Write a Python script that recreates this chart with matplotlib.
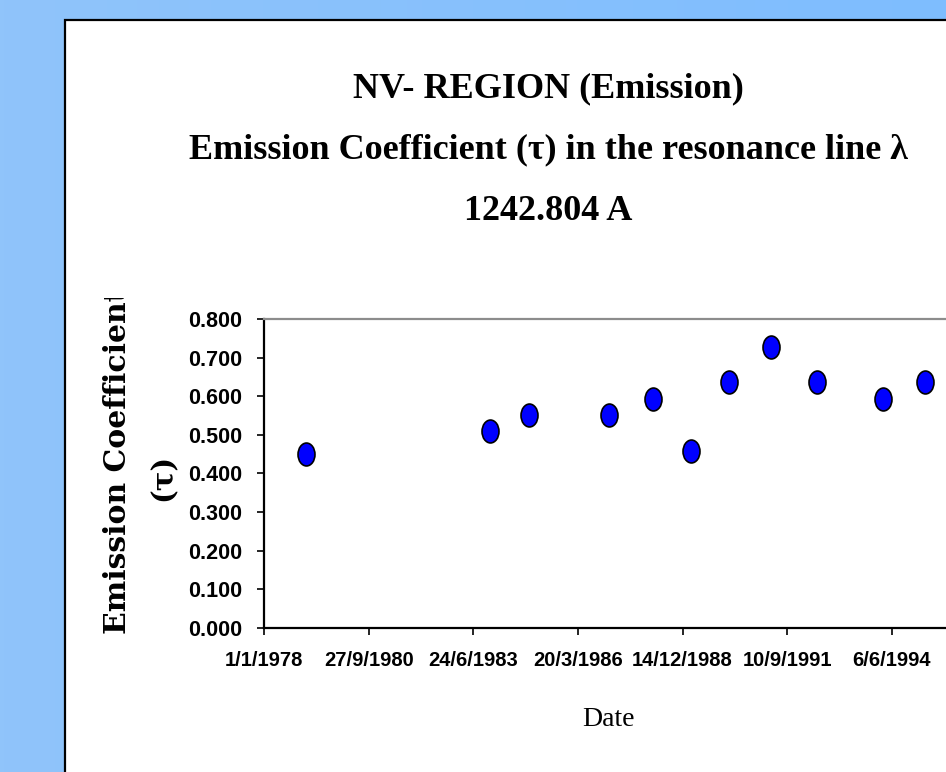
import numpy as np
import matplotlib.pyplot as plt
import matplotlib.dates as mdates
from matplotlib.path import Path
from matplotlib.patches import Rectangle
from matplotlib.colors import LinearSegmentedColormap
from matplotlib.transforms import Bbox, TransformedBbox
from datetime import datetime

obs_dates = ["1979-02-03", "1983-11-30", "1984-12-03", "1987-01-06", "1988-03-02",
             "1989-03-02", "1990-03-03", "1991-04-12", "1992-06-18", "1994-03-10",
             "1995-04-15"]
tau = [0.45, 0.51, 0.55, 0.55, 0.593, 0.457, 0.636, 0.727, 0.636, 0.593, 0.636]

date_ticks = ["1/1/1978", "27/9/1980", "24/6/1983", "20/3/1986",
              "14/12/1988", "10/9/1991", "6/6/1994"]
y_ticks = [0.0, 0.1, 0.2, 0.3, 0.4, 0.5, 0.6, 0.7, 0.8]

W, H = 946, 772
fig = plt.figure(figsize=(W / 100, H / 100), dpi=100)

# blue slide background + white chart panel
bg = fig.add_axes([0, 0, 1, 1], zorder=-10)
grad = np.linspace(0, 1, 256).reshape(1, -1)
cmap = LinearSegmentedColormap.from_list("bg", ["#90C4FA", "#7EBDFF"])
bg.imshow(grad, aspect='auto', cmap=cmap, extent=[0, 1, 0, 1])
bg.add_patch(Rectangle((65 / W, -0.1), 1.2, (H - 20) / H + 0.1,
                       facecolor='white', edgecolor='black', lw=1.6))
bg.set_xlim(0, 1)
bg.set_ylim(0, 1)
bg.axis('off')

ax = fig.add_axes([264 / W, (H - 627.7) / H, (952 - 264) / W, (627.7 - 319) / H])
ax.patch.set_alpha(0)

x = mdates.date2num([datetime.strptime(d, "%Y-%m-%d") for d in obs_dates])
circ = Path.unit_circle()
ellipse = Path(circ.vertices * [0.74, 1.0], circ.codes)
ax.plot(x, tau, linestyle='none', marker=ellipse, ms=16.5,
        mfc='#0000FF', mec='black', mew=1.2, clip_on=False)

tick_pos = mdates.date2num([datetime.strptime(d, "%d/%m/%Y") for d in date_ticks])
ax.set_xticks(tick_pos)
ax.set_xticklabels(date_ticks)
ax.set_xlim(mdates.date2num(datetime(1978, 1, 1)), mdates.date2num(datetime(1996, 1, 1)))
ax.set_ylim(0, 0.8)
ax.set_yticks(y_ticks)
ax.set_yticklabels(["%.3f" % v for v in y_ticks])

for lab in ax.get_xticklabels() + ax.get_yticklabels():
    lab.set_fontfamily('Liberation Sans')
    lab.set_fontweight('bold')
ax.tick_params(axis='both', direction='out', length=5, width=1.2, color='black')
ax.tick_params(axis='y', pad=11, labelsize=15.5)
ax.tick_params(axis='x', pad=12, labelsize=14.5)

ax.spines['left'].set_linewidth(1.6)
ax.spines['bottom'].set_linewidth(1.6)
ax.spines['top'].set_color('#8C8C8C')
ax.spines['top'].set_linewidth(1.6)
ax.spines['right'].set_visible(False)

# titles
title_kw = dict(ha='center', va='baseline', fontsize=26, fontweight='bold',
                family='Liberation Serif')
fig.text(548 / W, (H - 97) / H, "NV- REGION (Emission)", **title_kw)
fig.text(548 / W, (H - 158) / H, "Emission Coefficient (\u03c4) in the resonance line \u03bb", **title_kw)
fig.text(548 / W, (H - 220) / H, "1242.804 A", **title_kw)

fig.text(608 / W, (H - 720) / H, "Date", ha='center', va='center', fontsize=20,
         family='Liberation Serif')

# y axis title (clipped at the top, as in the original)
yl = fig.text(117 / W, (H - 634) / H, "Emission Coefficient", rotation=90,
              ha='center', va='bottom', fontsize=21.5, fontweight='bold', family='DejaVu Serif')
yl.set_clip_on(True)
yl.set_clip_box(TransformedBbox(Bbox.from_extents(0, 0, 1, (H - 298) / H), fig.transFigure))
fig.text(163 / W, (H - 477) / H, "(\u03c4)", rotation=90, ha='center', va='center',
         fontsize=21, fontweight='bold', family='DejaVu Serif')

fig.savefig("out.png", dpi=100)
